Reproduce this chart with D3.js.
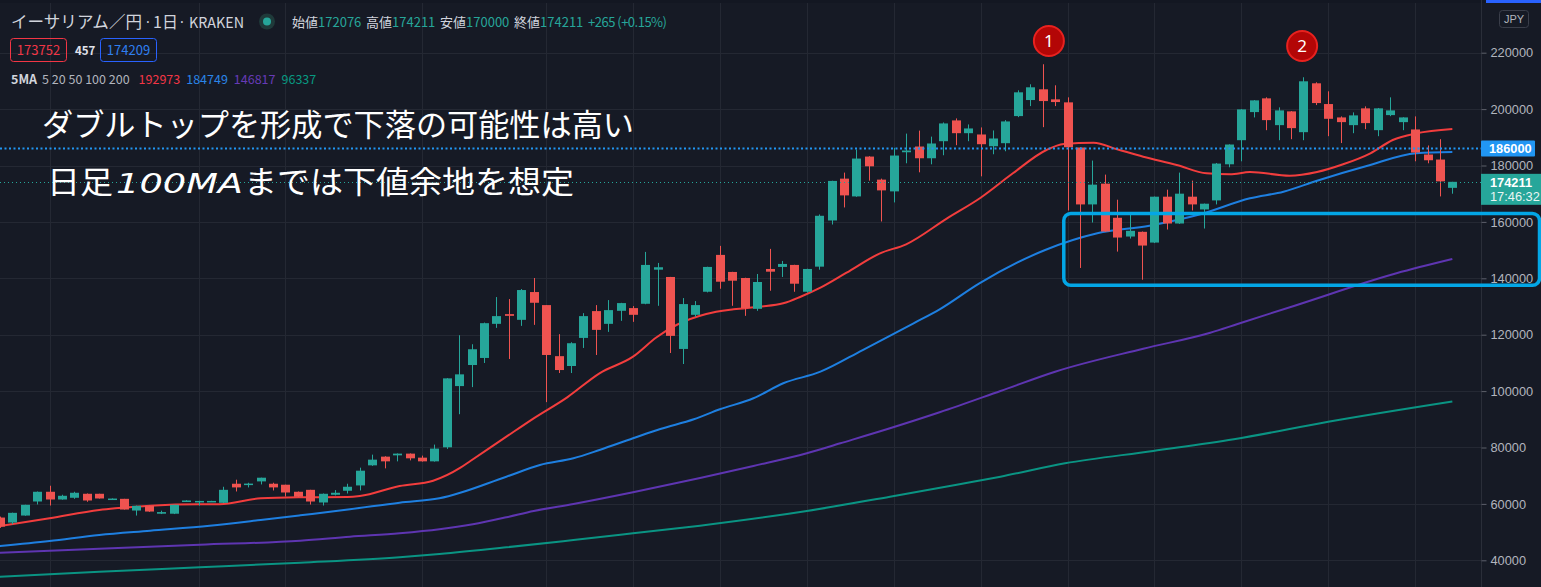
<!DOCTYPE html>
<html><head><meta charset="utf-8">
<script src="https://cdn.jsdelivr.net/npm/d3@7"></script>
<style>
body{margin:0;background:#161a25;overflow:hidden}
svg{display:block}
</style>
</head><body>
<svg id="c" width="1541" height="587"></svg>
<script>
// ---- data (daily candles, ETH/JPY) ----
const opens  = [55160,53380,55870,60850,64300,61560,62170,63590,63590,61750,61800,57650,59320,56520,56520,60850,60900,60950,60380,67150,67000,67980,67150,66800,64300,64990,60500,63240,64660,66550,73670,76760,77220,77830,76400,75090,80070,101780,109250,111750,123850,127300,125270,135130,130500,112390,108900,118860,128370,123850,128470,129430,130960,143060,140470,114950,127050,135230,148300,142250,140110,129180,143310,144030,144740,135230,144130,160500,175340,169040,183170,174990,170820,184700,186730,182570,188620,195990,191460,191000,186840,187910,197520,203210,207020,203460,202390,186380,166200,173560,161460,154810,156480,152670,168940,159430,168940,164420,167620,180430,188970,198940,203810,194310,199190,191820,209150,201790,197050,194310,200260,192530,197870,195380,192780,183890,182110,172076];
const highs  = [55500,56900,59700,64400,66440,63240,64300,63700,63600,61950,61800,59400,59400,57600,59700,61300,61100,61100,66080,68580,67500,69300,67510,66800,64400,65000,63700,64900,67150,72850,77470,76900,77900,77900,77120,81030,104600,119820,116620,124300,133350,132640,136190,140110,130500,120180,117330,127650,130500,132280,131300,130140,149360,145450,140500,132990,131920,144100,151500,142300,140200,141530,150430,146160,144800,143400,162640,174600,177480,185670,183300,175340,186270,191310,192370,190240,195270,196700,194560,193500,192430,196090,206660,208800,215910,208440,204170,186400,181750,176770,167870,162890,156600,169000,171430,177480,174630,166500,180900,187500,200000,203200,204170,200610,199300,211290,209510,206310,197410,198830,200970,200400,204170,197100,197410,187090,189330,174211];
const lows   = [51500,52800,55800,59800,59430,61500,61800,60750,61900,61700,58000,55870,57200,56400,56400,60800,59430,60900,60300,64410,65850,66900,64770,62630,62400,59780,59430,63000,63700,64770,73500,72600,75090,75440,75000,75000,79500,91810,101420,109970,122420,111390,123130,123490,96090,106410,106410,115300,112810,121000,124910,124560,130800,130250,113520,109610,126340,135000,136300,130250,126690,128470,135590,140470,135230,134900,143060,159080,165130,168900,174630,160150,166910,180790,177590,180430,183640,187200,188620,176160,183990,185060,197160,201070,193600,201070,164050,143670,159790,156500,149470,154100,139500,152500,157300,159300,164050,157660,166200,179370,181500,197050,192530,188970,189330,188970,201430,190400,187960,191460,192890,190400,197500,192530,181500,180790,169040,170000];
const closes = [51950,56830,59680,64300,61560,62880,63950,61210,61920,61900,58000,59320,57290,57100,59680,61210,61050,61050,64990,65850,67200,69290,65850,64050,62530,60850,63590,63950,66080,71780,75690,75090,77830,76160,75090,79610,104520,105940,114840,124090,126590,126690,135840,131320,112810,107470,116980,126590,121710,128720,131210,127050,144740,143920,119580,130860,130500,144030,138790,139150,129430,138690,142350,145090,138080,143310,162170,174530,169400,182460,179720,171180,183530,185310,182570,187800,194920,191460,193140,187550,189580,195630,205950,207730,202850,202500,186480,166200,173210,156590,154450,156840,151610,168940,159430,170010,166200,166450,180680,187440,199900,203100,196090,199540,193250,209860,202140,196560,195380,197770,195030,200260,199540,197050,184600,181860,174380,174211];

// moving averages: [candle index, price]
const maRed = [[0,52160],[4,54890],[8,57840],[9.3,58440],[12.1,59360],[16.1,59860],[17.7,59860],[21,61990],[24.2,62340],[28,62450],[29,62800],[32.2,66350],[34.9,68230],[37.1,72840],[37.9,75210],[40.8,83830],[43,90350],[45.7,97800],[48.3,106310],[51,112200],[52.9,119080],[54.5,123440],[56.9,127340],[59.1,129000],[61.2,129930],[63.1,131130],[64.5,133470],[66.1,136670],[68.2,141980],[70.9,148860],[73,152060],[76.3,161270],[79,168580],[81.6,177230],[84.3,185490],[85.7,187620],[88.1,188080],[90,185740],[92.1,183120],[94.8,180170],[97.2,177230],[99.1,176880],[100.7,177690],[103.9,176380],[106.1,177690],[108.2,180420],[110.4,184320],[112.2,189040],[114.1,191410],[117,192970]];
const maBlue = [[0,45070],[4,46840],[8,48970],[12.1,50500],[16.9,52270],[21,54290],[24.2,55960],[28.2,58090],[32.2,60430],[35.4,61990],[40.8,69650],[43.5,73790],[46.2,76170],[48.3,79110],[51,83260],[53.2,86560],[55.9,90000],[58,93550],[60.7,97450],[63.1,102770],[66.1,106880],[69.5,114570],[73.6,124040],[75.7,129000],[78.9,138220],[84.2,150030],[88.4,155950],[92.6,158650],[96.7,162690],[100.7,168370],[103.4,170710],[106.1,174610],[110.1,179820],[114.1,184320],[117,184750]];
const maPurple = [[0,42700],[8,44110],[16.1,45530],[24.2,46950],[28.2,48370],[32.2,49580],[35.4,50990],[38.1,52770],[40.8,55250],[43,57480],[46.2,59960],[51,64110],[56.4,69180],[60.7,73440],[65,77940],[67.7,81490],[71.7,86810],[75.7,92480],[80.6,100030],[85,106880],[92.1,115030],[97.5,120710],[99.7,123790],[104.3,130280],[112.5,141770],[117,146820]];
const maTeal = [[0,34190],[8,35960],[16.1,37520],[24.2,39150],[32.2,41060],[35.4,42230],[40.8,44610],[46.2,47200],[51,49570],[56.4,52270],[65,57480],[71.7,62550],[77.3,66950],[80.6,69650],[85.8,74400],[92.9,78760],[99.4,82910],[107,89150],[117,96340]];

const yTicks = [40000,60000,80000,100000,120000,140000,160000,180000,200000,220000];
const gridIdx = [4,16,23,34,44,51,58,65,72,79,86,93,100,107,114];
const alertPrice = 186000;
const lastPrice = 174211;
const lastTime = "17:46:32";
const boxZone = {i0: 85.7, top: 163000, bottom: 137500};
const markers = [{label:"1", i:84.5, p:224150},{label:"2", i:104.9, p:222370}];
const title = "イーサリアム／円";
const ohlcLabels = ["始値","高値","安値","終値"];
const ohlcValues = ["172076","174211","170000","174211"];
const maLegend = ["192973","184749","146817","96337"];
const note1 = "ダブルトップを形成で下落の可能性は高い";
const note2 = ["日足","100MA","までは下値余地を想定"];

// ---- layout ----
const W = 1541, H = 587, plotR = 1481;
const up = "#26a69a", down = "#ef5350";
const x = d3.scaleLinear().domain([0,117]).range([-0.1, -0.1 + 117*12.414]);
const y = d3.scaleLinear().domain([40000,220000]).range([560.3,52.7]);
const svg = d3.select("#c");
svg.append("rect").attr("width",W).attr("height",H).attr("fill","#161a25");

// top strip
svg.append("rect").attr("x",0).attr("y",0).attr("width",W).attr("height",3).attr("fill","#131722");
svg.append("rect").attr("x",1486).attr("y",0).attr("width",W-1486).attr("height",3).attr("fill","#2962ff");

const grid = svg.append("g");
grid.selectAll("line.h").data(yTicks).join("line")
  .attr("x1",0).attr("x2",plotR).attr("y1",d=>Math.round(y(d))+0.5).attr("y2",d=>Math.round(y(d))+0.5)
  .attr("stroke","#242833").attr("stroke-width",1);
grid.selectAll("line.v").data(gridIdx).join("line")
  .attr("x1",d=>Math.round(x(d))+0.5).attr("x2",d=>Math.round(x(d))+0.5).attr("y1",3).attr("y2",H)
  .attr("stroke","#242833").attr("stroke-width",1);

svg.append("clipPath").attr("id","pc").append("rect").attr("x",0).attr("y",0).attr("width",plotR).attr("height",H);
const plot = svg.append("g").attr("clip-path","url(#pc)");

// MA lines
const line = d3.line().x(d=>x(d[0])).y(d=>y(d[1])).curve(d3.curveMonotoneX);
[[maTeal,"#0a9483"],[maPurple,"#5e35b1"],[maBlue,"#1e7fe0"],[maRed,"#f23d3d"]].forEach(([d,c])=>{
  plot.append("path").attr("d",line(d)).attr("fill","none").attr("stroke",c).attr("stroke-width",2);
});

// candles
const idx = d3.range(opens.length);
const cg = plot.append("g");
cg.selectAll("rect.w").data(idx).join("rect")
  .attr("x",i=>Math.round(x(i)))
  .attr("y",i=>y(highs[i])).attr("width",1)
  .attr("height",i=>Math.max(1,y(lows[i])-y(highs[i])))
  .attr("fill",i=>closes[i]>=opens[i]?up:down);
cg.selectAll("rect.b").data(idx).join("rect")
  .attr("x",i=>Math.round(x(i))-4)
  .attr("y",i=>y(Math.max(opens[i],closes[i])))
  .attr("width",9)
  .attr("height",i=>Math.max(1.5,Math.abs(y(opens[i])-y(closes[i]))))
  .attr("fill",i=>closes[i]>=opens[i]?up:down);

// price lines
svg.append("line").attr("x1",0).attr("x2",plotR).attr("y1",y(alertPrice)).attr("y2",y(alertPrice))
  .attr("stroke","#2196f3").attr("stroke-width",2).attr("stroke-dasharray","2,2.5");
svg.append("line").attr("x1",0).attr("x2",plotR).attr("y1",Math.round(y(lastPrice))+0.5).attr("y2",Math.round(y(lastPrice))+0.5)
  .attr("stroke",up).attr("stroke-width",1).attr("stroke-dasharray","1,3");

// axis
const axis = d3.axisRight(y).tickValues(yTicks).tickSize(5).tickPadding(4).tickFormat(d=>String(d));
const ag = svg.append("g").attr("transform",`translate(${plotR+0.5},0)`).call(axis);
ag.select(".domain").attr("stroke","#2a2e39").attr("d",`M0,0V${H}`);
ag.selectAll(".tick line").attr("stroke","#5d606b");
ag.selectAll(".tick text").attr("fill","#b2b5be").attr("font-family","Liberation Sans, Arial, sans-serif").attr("font-size","12.8px");

// JPY badge
svg.append("rect").attr("x",1499.5).attr("y",10.5).attr("width",29).attr("height",17).attr("rx",3)
  .attr("fill","none").attr("stroke","#3a3e4a");
svg.append("text").attr("x",1514).attr("y",23).attr("text-anchor","middle").attr("fill","#b2b5be")
  .attr("font-family","Liberation Sans, Arial, sans-serif").attr("font-size","11px").text("JPY");

// axis price labels
const ya = y(alertPrice);
svg.append("rect").attr("x",plotR).attr("y",ya-8).attr("width",54).attr("height",16).attr("fill","#2196f3").attr("rx",1);
svg.append("text").attr("x",plotR+8).attr("y",ya+4.5).attr("fill","#fff").attr("font-weight","bold")
  .attr("font-family","Liberation Sans, Arial, sans-serif").attr("font-size","12.8px").text(String(alertPrice));
const yl = y(lastPrice);
svg.append("rect").attr("x",plotR).attr("y",yl-8).attr("width",W-plotR).attr("height",31).attr("fill",up);
svg.append("text").attr("x",plotR+9).attr("y",yl+5).attr("fill","#fff").attr("font-weight","bold")
  .attr("font-family","Liberation Sans, Arial, sans-serif").attr("font-size","12.8px").text(String(lastPrice));
svg.append("text").attr("x",plotR+9).attr("y",yl+19).attr("fill","#e8f5f3")
  .attr("font-family","Liberation Sans, Arial, sans-serif").attr("font-size","12.8px").text(lastTime);

// annotation box
svg.append("rect").attr("x",x(boxZone.i0)).attr("y",y(boxZone.top))
  .attr("width",W-1.5-x(boxZone.i0)).attr("height",y(boxZone.bottom)-y(boxZone.top))
  .attr("rx",7).attr("fill","none").attr("stroke","#03a6e6").attr("stroke-width",3.5);

// markers
const mg = svg.selectAll("g.m").data(markers).join("g").attr("transform",d=>`translate(${x(d.i)},${y(d.p)})`);
mg.append("circle").attr("r",15).attr("fill","#b30606").attr("stroke","#e8221f").attr("stroke-width",2);
mg.append("text").attr("text-anchor","middle").attr("y",6).attr("fill","#fff")
  .attr("font-family","Noto Sans, sans-serif").attr("font-size","17px").text(d=>d.label);

// annotation text
const jp = "Noto Sans CJK JP, sans-serif";
svg.append("text").attr("x",42).attr("y",136).attr("fill","#fff").attr("font-family",jp).attr("font-size","31px")
  .attr("textLength",592).attr("lengthAdjust","spacingAndGlyphs").text(note1);
svg.append("text").attr("x",47).attr("y",193).attr("fill","#fff").attr("font-family",jp).attr("font-size","31px")
  .attr("textLength",66).attr("lengthAdjust","spacingAndGlyphs").text(note2[0]);
svg.append("text").attr("x",116).attr("y",193).attr("fill","#fff").attr("font-family","DejaVu Sans, sans-serif")
  .attr("font-style","italic").attr("font-size","26px").attr("textLength",127).attr("lengthAdjust","spacingAndGlyphs").text(note2[1]);
svg.append("text").attr("x",244).attr("y",193).attr("fill","#fff").attr("font-family",jp).attr("font-size","31px")
  .attr("textLength",330).attr("lengthAdjust","spacingAndGlyphs").text(note2[2]);

// header
const hf = "Noto Sans CJK JP, Noto Sans, sans-serif";
const lf = "Noto Sans, sans-serif";
const hdr = svg.append("g").attr("font-family",hf);
hdr.append("text").attr("x",11).attr("y",27.5).attr("fill","#d1d4dc").attr("font-size","16.5px")
  .attr("textLength",131).attr("lengthAdjust","spacingAndGlyphs").text(title);
hdr.append("text").attr("x",148).attr("y",26.5).attr("text-anchor","middle").attr("font-family",lf).attr("fill","#d1d4dc").attr("font-size","14px").text("·");
hdr.append("text").attr("x",153).attr("y",27.5).attr("fill","#d1d4dc").attr("font-size","16px").text("1日");
hdr.append("text").attr("x",182).attr("y",26.5).attr("text-anchor","middle").attr("font-family",lf).attr("fill","#d1d4dc").attr("font-size","14px").text("·");
hdr.append("text").attr("x",189).attr("y",27.5).attr("fill","#d1d4dc").attr("font-size","15px")
  .attr("textLength",55).attr("lengthAdjust","spacingAndGlyphs").text("KRAKEN");
hdr.append("circle").attr("cx",267).attr("cy",21.5).attr("r",8).attr("fill","#1f3a3a");
hdr.append("circle").attr("cx",267).attr("cy",21.5).attr("r",4).attr("fill",up);
const ohlcX = [292,366,440,514];
ohlcLabels.forEach((l,k)=>{
  const t = hdr.append("text").attr("x",ohlcX[k]).attr("y",26.5).attr("font-size","13px");
  t.append("tspan").attr("fill","#d1d4dc").text(l);
  t.append("tspan").attr("fill",up).text(ohlcValues[k]);
});
hdr.append("text").attr("x",588).attr("y",26.5).attr("font-size","13px").attr("fill",up)
  .attr("textLength",79).attr("lengthAdjust","spacing").text("+265 (+0.15%)");

// bid/ask row
hdr.append("rect").attr("x",10.5).attr("y",38.5).attr("width",56).attr("height",23).attr("rx",3).attr("fill","none").attr("stroke","#f23645");
hdr.append("text").attr("x",38.5).attr("y",55).attr("text-anchor","middle").attr("fill","#f23645").attr("font-size","13px").text("173752");
hdr.append("text").attr("x",75).attr("y",54.5).attr("fill","#e0e3eb").attr("font-weight","bold").attr("font-size","11.5px").text("457");
hdr.append("rect").attr("x",100.5).attr("y",38.5).attr("width",56).attr("height",23).attr("rx",3).attr("fill","none").attr("stroke","#2962ff");
hdr.append("text").attr("x",128.5).attr("y",55).attr("text-anchor","middle").attr("fill","#2f7ff0").attr("font-size","13px").text("174209");

// MA legend row
const lg = hdr.append("text").attr("x",11).attr("y",83.5).attr("font-size","12.5px");
lg.append("tspan").attr("fill","#d1d4dc").attr("font-weight","bold").text("5MA");
lg.append("tspan").attr("fill","#b2b5be").attr("dx",5).text("5 20 50 100 200");
const legCol = ["#f23645","#2a85e8","#673ab7","#089981"];
maLegend.forEach((v,k)=>lg.append("tspan").attr("fill",legCol[k]).attr("dx",k===0?9:6).text(v));
</script>
</body></html>
